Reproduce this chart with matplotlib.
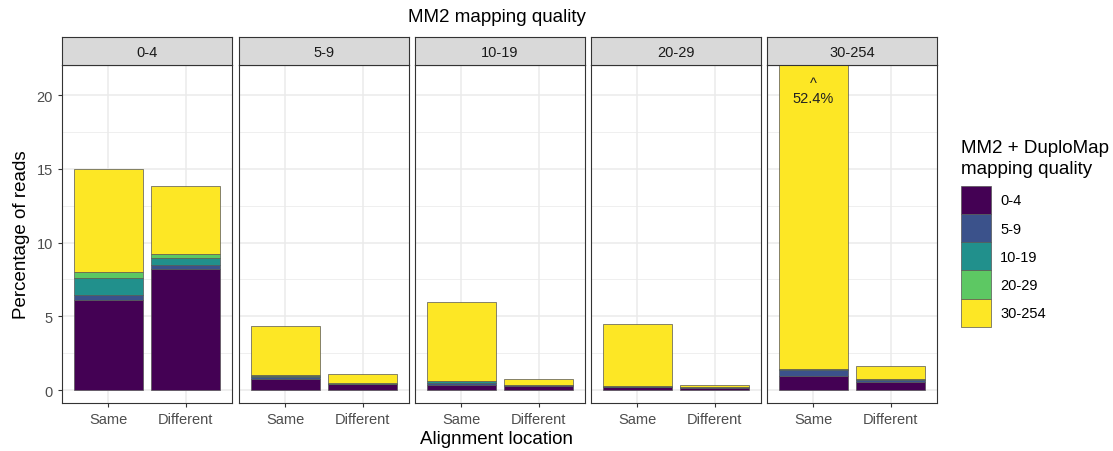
import numpy as np
import matplotlib.pyplot as plt
from matplotlib.patches import Patch

plt.rcParams['font.family'] = ['Liberation Sans', 'DejaVu Sans']

# facets = MM2 mapping quality, stacks = MM2 + DuploMap mapping quality
facets = ["0-4", "5-9", "10-19", "20-29", "30-254"]
locations = ["Same", "Different"]
mq_bins = ["0-4", "5-9", "10-19", "20-29", "30-254"]
colors = ["#440154", "#3B528B", "#21908C", "#5DC863", "#FDE725"]

# percentage of reads per facet, [Same, Different] for each stack bin
q0_4 = [[6.10, 8.20], [0.34, 0.27], [1.13, 0.48], [0.41, 0.31], [7.02, 4.59]]
q5_9 = [[0.75, 0.38], [0.12, 0.04], [0.10, 0.02], [0.03, 0.01], [3.32, 0.62]]
q10_19 = [[0.35, 0.28], [0.15, 0.03], [0.08, 0.02], [0.02, 0.01], [5.37, 0.42]]
q20_29 = [[0.20, 0.17], [0.03, 0.01], [0.02, 0.01], [0.01, 0.01], [4.21, 0.17]]
q30_254 = [[0.97, 0.56], [0.36, 0.10], [0.07, 0.07], [0.02, 0.02], [50.98, 0.90]]
panels = [q0_4, q5_9, q10_19, q20_29, q30_254]

W, H = 1113, 452
fig = plt.figure(figsize=(W / 100, H / 100), dpi=100)

lefts = [62, 239, 415, 591, 767]
pw = 170
top, bottom, strip_h = 66, 404, 28
ymax = 22.05

for k, (name, data) in enumerate(zip(facets, panels)):
    ax = fig.add_axes([lefts[k] / W, 1 - bottom / H, pw / W, (bottom - top) / H])
    x = np.arange(1, len(locations) + 1)
    base = np.zeros(len(locations))
    for j, vals in enumerate(data):
        vals = np.array(vals)
        ax.bar(x, vals, width=0.9, bottom=base, color=colors[j],
               edgecolor="#555555", linewidth=0.5, zorder=3)
        base += vals
    # bars that run past the axis get their total written in
    for xi, tot in zip(x, base):
        if tot > ymax:
            ax.text(xi, 20.35, f"^\n{tot:.1f}%", ha="center", va="center",
                    fontsize=10.5, color="#222222", linespacing=1.1, zorder=4)
    ax.set_xlim(0.4, 2.6)
    ax.set_ylim(-0.88, ymax)
    ax.set_xticks(x)
    ax.set_xticklabels(locations)
    ax.set_yticks([0, 5, 10, 15, 20])
    ax.set_yticks([2.5, 7.5, 12.5, 17.5], minor=True)
    ax.grid(True, which="major", color="#EBEBEB", linewidth=1.1, zorder=0)
    ax.grid(True, which="minor", axis="y", color="#EBEBEB", linewidth=0.55, zorder=0)
    ax.set_axisbelow(True)
    for s in ax.spines.values():
        s.set_color("#333333")
        s.set_linewidth(0.8)
    ax.tick_params(axis="both", which="major", length=3, color="#333333",
                   labelsize=10.5, labelcolor="#4D4D4D")
    ax.tick_params(axis="both", which="minor", length=0)
    if k > 0:
        ax.tick_params(axis="y", length=0, labelleft=False)

    # facet strip
    sax = fig.add_axes([lefts[k] / W, 1 - top / H, pw / W, strip_h / H])
    sax.set_facecolor("#D9D9D9")
    sax.set_xticks([])
    sax.set_yticks([])
    for s in sax.spines.values():
        s.set_color("#333333")
        s.set_linewidth(0.8)
    sax.text(0.5, 0.48, name, ha="center", va="center", fontsize=10.5,
             color="#1A1A1A", transform=sax.transAxes)

fig.text(497 / W, 1 - 17 / H, "MM2 mapping quality", ha="center", va="center",
         fontsize=13.5, color="black")
fig.text(497 / W, 1 - 440 / H, "Alignment location", ha="center", va="center",
         fontsize=13.5, color="black")
fig.text(22 / W, 1 - 235 / H, "Percentage of reads", ha="center", va="center",
         rotation=90, fontsize=13.5, color="black")

# legend title set apart so the keys sit a little lower
fig.text(961 / W, 1 - 159 / H, "MM2 + DuploMap\nmapping quality", ha="left",
         va="center", fontsize=13.5, linespacing=1.25, color="black")
handles = [Patch(facecolor=c, edgecolor="#555555", linewidth=0.5) for c in colors]
leg = fig.legend(handles, mq_bins, loc="upper left",
                 bbox_to_anchor=(955 / W, 1 - 181 / H),
                 frameon=False, fontsize=10.5,
                 handlelength=2.1, handleheight=2.6, labelspacing=0.0,
                 handletextpad=0.6, borderaxespad=0.0)

fig.savefig("out.png", dpi=100)
